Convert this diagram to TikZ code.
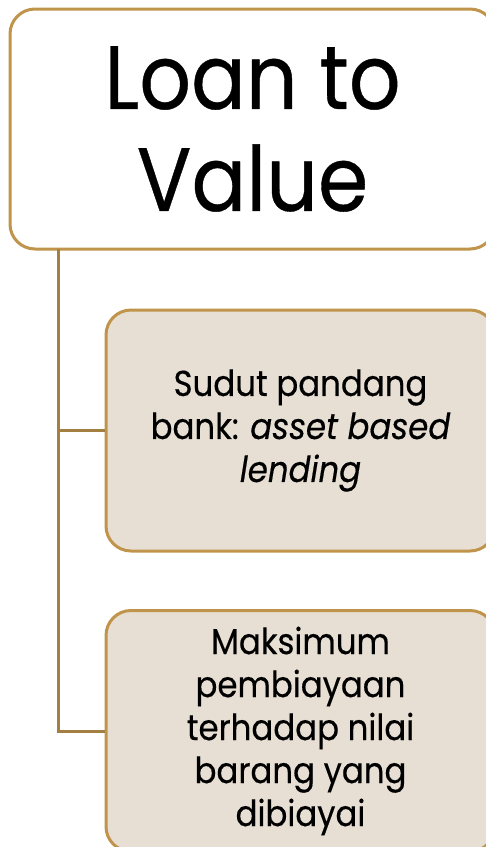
\documentclass[tikz,border=0pt]{standalone}
\usepackage{fontspec}
\setmainfont{Poppins}[FakeStretch=0.9, FakeBold=0.4]
\definecolor{rimgold}{HTML}{C0944B}
\definecolor{linkgold}{HTML}{A47F42}
\definecolor{paper}{HTML}{E8DFD4}
\tikzset{
  headbox/.style={draw=rimgold, line width=3pt, rounded corners=25pt, fill=white,
    minimum width=485pt, minimum height=240pt, align=center, inner sep=0pt,
    font=\fontsize{90}{102}\selectfont},
  itembox/.style={draw=rimgold, line width=3pt, rounded corners=25pt, fill=paper,
    minimum width=389pt, minimum height=241pt, align=center, inner sep=0pt,
    font=\fontsize{36}{43}\selectfont},
  link/.style={draw=linkgold, line width=3pt}
}
\begin{document}
\begin{tikzpicture}[x=1pt, y=-1pt]
  \useasboundingbox (0,0) rectangle (486,847);
  \clip (0,0) rectangle (486,847);
  \fill[white] (0,0) rectangle (486,847);
  % title box and the two items hanging from it
  \node[headbox] (head) at (252.5,129) {Loan to\\Value};
  \node[itembox] (itemA) at (300.5,430.5) {Sudut pandang\\bank: \textit{asset based}\\\textit{lending}};
  \node[itembox] (itemB) at (300.5,731) {Maksimum\\pembiayaan\\terhadap nilai\\barang yang\\dibiayai};
  % tree connectors
  \coordinate (trunk) at (58,249);
  \draw[link] (trunk) |- (itemA.west);
  \draw[link] (trunk) |- (itemB.west);
\end{tikzpicture}
\end{document}
